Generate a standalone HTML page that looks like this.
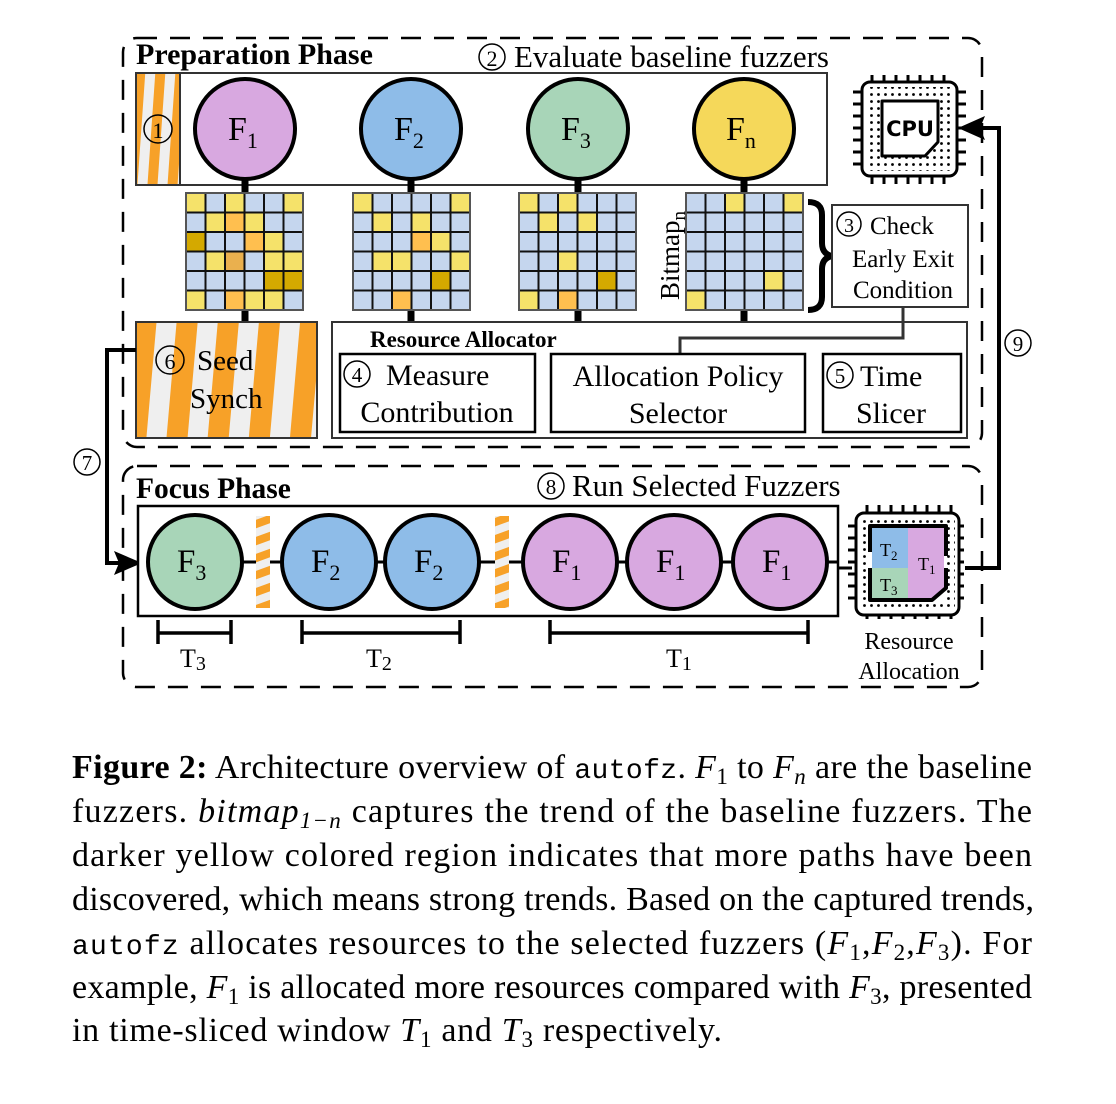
<!DOCTYPE html>
<html><head><meta charset="utf-8"><style>
html,body{margin:0;padding:0;background:#fff;}
svg{display:block;}
text{font-family:"Liberation Serif",serif;fill:#000;}
.m{font-family:"Liberation Mono",monospace;}
</style></head><body>
<svg width="1116" height="1104" viewBox="0 0 1116 1104" xmlns="http://www.w3.org/2000/svg">
<defs>
<pattern id="str" patternUnits="userSpaceOnUse" width="41" height="41" patternTransform="rotate(5)">
<rect width="41" height="41" fill="#f7a128"/><rect x="20" width="20" height="41" fill="#efefef"/></pattern>
<pattern id="str1" patternUnits="userSpaceOnUse" width="20" height="20" patternTransform="rotate(4)">
<rect width="20" height="20" fill="#f7a128"/><rect x="10" width="10" height="20" fill="#efefef"/></pattern>
<pattern id="str2" patternUnits="userSpaceOnUse" width="16" height="16" patternTransform="rotate(70)">
<rect width="16" height="16" fill="#f7a128"/><rect x="8" width="8" height="16" fill="#efefef"/></pattern>
<pattern id="g1" patternUnits="userSpaceOnUse" x="186" y="193" width="19.5" height="19.5"><rect width="19.5" height="19.5" fill="none" stroke="#111" stroke-width="2"/></pattern>
<pattern id="g2" patternUnits="userSpaceOnUse" x="353" y="193" width="19.5" height="19.5"><rect width="19.5" height="19.5" fill="none" stroke="#111" stroke-width="2"/></pattern>
<pattern id="g3" patternUnits="userSpaceOnUse" x="519" y="193" width="19.5" height="19.5"><rect width="19.5" height="19.5" fill="none" stroke="#111" stroke-width="2"/></pattern>
<pattern id="g4" patternUnits="userSpaceOnUse" x="686" y="193" width="19.5" height="19.5"><rect width="19.5" height="19.5" fill="none" stroke="#111" stroke-width="2"/></pattern>
<pattern id="dots" patternUnits="userSpaceOnUse" x="0" y="0" width="7" height="7"><circle cx="3.5" cy="3.5" r="1.4" fill="#000"/></pattern>
</defs>

<rect x="123" y="38" width="859" height="409" rx="14" fill="none" stroke="#000" stroke-width="2.5" stroke-dasharray="20,13"/>
<rect x="123" y="466" width="859" height="221" rx="14" fill="none" stroke="#000" stroke-width="2.5" stroke-dasharray="20,13"/>

<text x="136" y="64" font-size="30" font-weight="bold">Preparation Phase</text>
<circle cx="492" cy="57" r="13" fill="none" stroke="#000" stroke-width="1.5"/><text x="492" y="66" font-size="22" text-anchor="middle">2</text>
<text x="514" y="67" font-size="31">Evaluate baseline fuzzers</text>

<rect x="136" y="73" width="691" height="112" fill="#fff" stroke="#333" stroke-width="2"/>
<rect x="136" y="73" width="44" height="112" fill="url(#str1)" stroke="#333" stroke-width="2"/>
<circle cx="158" cy="129" r="14" fill="none" stroke="#000" stroke-width="1.5"/><text x="158" y="138" font-size="22" text-anchor="middle">1</text>

<g stroke="#000" stroke-width="7">
<line x1="245" y1="175" x2="245" y2="195"/><line x1="245" y1="308" x2="245" y2="324"/>
<line x1="411" y1="175" x2="411" y2="195"/><line x1="411" y1="308" x2="411" y2="324"/>
<line x1="578" y1="175" x2="578" y2="195"/><line x1="578" y1="308" x2="578" y2="324"/>
<line x1="744" y1="175" x2="744" y2="195"/><line x1="744" y1="308" x2="744" y2="324"/>
</g>

<g stroke="#000" stroke-width="4">
<circle cx="245" cy="129" r="50" fill="#d8a8e0"/>
<circle cx="411" cy="129" r="50" fill="#8ebce8"/>
<circle cx="578" cy="129" r="50" fill="#a8d5b8"/>
<circle cx="744" cy="129" r="50" fill="#f5d85a"/>
</g>
<g font-size="34">
<text x="228" y="140">F<tspan font-size="22" dy="8">1</tspan></text>
<text x="394" y="140">F<tspan font-size="22" dy="8">2</tspan></text>
<text x="561" y="140">F<tspan font-size="22" dy="8">3</tspan></text>
<text x="726" y="140">F<tspan font-size="22" dy="8">n</tspan></text>
</g>

<g>
<rect x="186" y="193" width="117" height="117" fill="#c5d6ee"/>
<g fill="#f5e26a"><rect x="186" y="193" width="19.5" height="19.5"/><rect x="225" y="193" width="19.5" height="19.5"/><rect x="283.5" y="193" width="19.5" height="19.5"/><rect x="205.5" y="212.5" width="19.5" height="19.5"/><rect x="244.5" y="212.5" width="19.5" height="19.5"/><rect x="264" y="232" width="19.5" height="19.5"/><rect x="205.5" y="251.5" width="19.5" height="19.5"/><rect x="264" y="251.5" width="19.5" height="19.5"/><rect x="283.5" y="251.5" width="19.5" height="19.5"/><rect x="186" y="290.5" width="19.5" height="19.5"/><rect x="244.5" y="290.5" width="19.5" height="19.5"/><rect x="264" y="290.5" width="19.5" height="19.5"/></g>
<g fill="#ffbf4f"><rect x="225" y="212.5" width="19.5" height="19.5"/><rect x="244.5" y="232" width="19.5" height="19.5"/><rect x="225" y="290.5" width="19.5" height="19.5"/></g>
<rect x="225" y="251.5" width="19.5" height="19.5" fill="#eab04e"/>
<g fill="#d4a900"><rect x="186" y="232" width="19.5" height="19.5"/><rect x="264" y="271" width="19.5" height="19.5"/><rect x="283.5" y="271" width="19.5" height="19.5"/></g>
<rect x="186" y="193" width="117" height="117" fill="url(#g1)" stroke="#555" stroke-width="2"/>
</g>
<g>
<rect x="353" y="193" width="117" height="117" fill="#c5d6ee"/>
<g fill="#f5e26a"><rect x="353" y="193" width="19.5" height="19.5"/><rect x="450.5" y="193" width="19.5" height="19.5"/><rect x="372.5" y="212.5" width="19.5" height="19.5"/><rect x="411.5" y="212.5" width="19.5" height="19.5"/><rect x="431" y="232" width="19.5" height="19.5"/><rect x="372.5" y="251.5" width="19.5" height="19.5"/><rect x="392" y="251.5" width="19.5" height="19.5"/><rect x="450.5" y="251.5" width="19.5" height="19.5"/></g>
<g fill="#ffbf4f"><rect x="411.5" y="232" width="19.5" height="19.5"/><rect x="392" y="290.5" width="19.5" height="19.5"/></g>
<rect x="431" y="271" width="19.5" height="19.5" fill="#d4a900"/>
<rect x="353" y="193" width="117" height="117" fill="url(#g2)" stroke="#555" stroke-width="2"/>
</g>
<g>
<rect x="519" y="193" width="117" height="117" fill="#c5d6ee"/>
<g fill="#f5e26a"><rect x="519" y="193" width="19.5" height="19.5"/><rect x="558" y="193" width="19.5" height="19.5"/><rect x="538.5" y="212.5" width="19.5" height="19.5"/><rect x="577.5" y="212.5" width="19.5" height="19.5"/><rect x="558" y="251.5" width="19.5" height="19.5"/><rect x="519" y="290.5" width="19.5" height="19.5"/></g>
<rect x="558" y="290.5" width="19.5" height="19.5" fill="#ffbf4f"/>
<rect x="597" y="271" width="19.5" height="19.5" fill="#d4a900"/>
<rect x="519" y="193" width="117" height="117" fill="url(#g3)" stroke="#555" stroke-width="2"/>
</g>
<g>
<rect x="686" y="193" width="117" height="117" fill="#c5d6ee"/>
<g fill="#f5e26a"><rect x="725" y="193" width="19.5" height="19.5"/><rect x="783.5" y="193" width="19.5" height="19.5"/><rect x="764" y="271" width="19.5" height="19.5"/><rect x="686" y="290.5" width="19.5" height="19.5"/></g>
<rect x="686" y="193" width="117" height="117" fill="url(#g4)" stroke="#555" stroke-width="2"/>
</g>
<text transform="translate(679,300) rotate(-90)" font-size="27">Bitmap<tspan font-size="19" dy="6">n</tspan></text>

<path d="M808,202 Q822,202 822,215 L822,243 Q822,254 832,256 Q822,258 822,269 L822,297 Q822,310 808,310" fill="none" stroke="#000" stroke-width="6"/>

<rect x="832" y="205" width="136" height="102" fill="#fff" stroke="#333" stroke-width="2"/>
<circle cx="849" cy="224" r="12" fill="none" stroke="#000" stroke-width="1.5"/><text x="849" y="232" font-size="20" text-anchor="middle">3</text>
<text x="870" y="234" font-size="25">Check</text>
<text x="903" y="267" font-size="25" text-anchor="middle">Early Exit</text>
<text x="903" y="298" font-size="25" text-anchor="middle">Condition</text>

<rect x="136" y="322" width="181" height="116" fill="url(#str)" stroke="#333" stroke-width="2"/>
<circle cx="170" cy="360" r="14" fill="none" stroke="#000" stroke-width="1.5"/><text x="170" y="369" font-size="22" text-anchor="middle">6</text>
<text x="197" y="370" font-size="29">Seed</text>
<text x="190" y="408" font-size="29">Synch</text>

<rect x="332" y="322" width="635" height="116" fill="#fff" stroke="#333" stroke-width="2"/>
<text x="370" y="347" font-size="23" font-weight="bold">Resource Allocator</text>
<path d="M903,307 L903,338 L680,338 L680,354" fill="none" stroke="#333" stroke-width="3"/>
<rect x="340" y="354" width="195" height="78" fill="#fff" stroke="#000" stroke-width="2.5"/>
<rect x="551" y="354" width="254" height="78" fill="#fff" stroke="#000" stroke-width="2.5"/>
<rect x="823" y="354" width="138" height="78" fill="#fff" stroke="#000" stroke-width="2.5"/>
<circle cx="357" cy="374" r="13" fill="none" stroke="#000" stroke-width="1.5"/><text x="357" y="382" font-size="21" text-anchor="middle">4</text>
<text x="386" y="385" font-size="30">Measure</text>
<text x="437" y="422" font-size="30" text-anchor="middle">Contribution</text>
<text x="678" y="386" font-size="30" text-anchor="middle">Allocation Policy</text>
<text x="678" y="423" font-size="30" text-anchor="middle">Selector</text>
<circle cx="840" cy="375" r="13" fill="none" stroke="#000" stroke-width="1.5"/><text x="840" y="383" font-size="21" text-anchor="middle">5</text>
<text x="860" y="386" font-size="30">Time</text>
<text x="891" y="423" font-size="30" text-anchor="middle">Slicer</text>

<g stroke="#000" stroke-width="3">
<g id="pinsT"><line x1="872" y1="75" x2="872" y2="84"/><line x1="884" y1="75" x2="884" y2="84"/><line x1="896" y1="75" x2="896" y2="84"/><line x1="908" y1="75" x2="908" y2="84"/><line x1="920" y1="75" x2="920" y2="84"/><line x1="932" y1="75" x2="932" y2="84"/><line x1="944" y1="75" x2="944" y2="84"/></g>
<use href="#pinsT" y="100"/>
<g id="pinsL"><line x1="853" y1="92" x2="862" y2="92"/><line x1="853" y1="104" x2="862" y2="104"/><line x1="853" y1="116" x2="862" y2="116"/><line x1="853" y1="128" x2="862" y2="128"/><line x1="853" y1="140" x2="862" y2="140"/><line x1="853" y1="152" x2="862" y2="152"/><line x1="853" y1="164" x2="862" y2="164"/></g>
<use href="#pinsL" x="104"/>
</g>
<rect x="862" y="82" width="95" height="94" rx="8" fill="#fff" stroke="#000" stroke-width="3"/>
<rect x="867" y="87" width="85" height="84" fill="url(#dots)"/>
<path d="M882,101 L938,101 L938,142 L925,156 L882,156 Z" fill="#fff" stroke="#000" stroke-width="3" stroke-linejoin="round"/>
<text x="910" y="136" font-size="21" font-weight="bold" text-anchor="middle" style="font-family:'DejaVu Sans',sans-serif">CPU</text>

<path d="M965,568 L999,568 L999,128 L975,128" fill="none" stroke="#000" stroke-width="4"/>
<path d="M958,128 L985,116 L980,128 L985,140 Z" fill="#000"/>
<rect x="1005" y="328" width="28" height="30" fill="#fff"/>
<circle cx="1018" cy="343" r="13" fill="none" stroke="#000" stroke-width="1.5"/><text x="1018" y="351" font-size="21" text-anchor="middle">9</text>

<path d="M136,350 L107,350 L107,563 L130,563" fill="none" stroke="#000" stroke-width="4"/>
<path d="M142,563 L114,551 L119,563 L114,575 Z" fill="#000"/>
<circle cx="87" cy="462" r="13" fill="none" stroke="#000" stroke-width="1.5"/><text x="87" y="470" font-size="21" text-anchor="middle">7</text>

<text x="136" y="498" font-size="29.5" font-weight="bold">Focus Phase</text>
<circle cx="551" cy="486" r="13" fill="none" stroke="#000" stroke-width="1.5"/><text x="551" y="494" font-size="21" text-anchor="middle">8</text>
<text x="572" y="496" font-size="31">Run Selected Fuzzers</text>
<rect x="138" y="506" width="700" height="110" fill="#fff" stroke="#000" stroke-width="2.5"/>
<line x1="195" y1="562" x2="838" y2="562" stroke="#000" stroke-width="3"/>
<line x1="838" y1="568" x2="852" y2="568" stroke="#000" stroke-width="3"/>
<rect x="256" y="516" width="14" height="92" fill="url(#str2)"/>
<rect x="495" y="516" width="14" height="92" fill="url(#str2)"/>
<g stroke="#000" stroke-width="4">
<circle cx="195" cy="562" r="47" fill="#a8d5b8"/>
<circle cx="329" cy="562" r="47" fill="#8ebce8"/>
<circle cx="432" cy="562" r="47" fill="#8ebce8"/>
<circle cx="570" cy="562" r="47" fill="#d8a8e0"/>
<circle cx="674" cy="562" r="47" fill="#d8a8e0"/>
<circle cx="780" cy="562" r="47" fill="#d8a8e0"/>
</g>
<g font-size="33">
<text x="177" y="572">F<tspan font-size="22" dy="8">3</tspan></text>
<text x="311" y="572">F<tspan font-size="22" dy="8">2</tspan></text>
<text x="414" y="572">F<tspan font-size="22" dy="8">2</tspan></text>
<text x="552" y="572">F<tspan font-size="22" dy="8">1</tspan></text>
<text x="656" y="572">F<tspan font-size="22" dy="8">1</tspan></text>
<text x="762" y="572">F<tspan font-size="22" dy="8">1</tspan></text>
</g>
<g stroke="#000" stroke-width="3.5" fill="none">
<path d="M158,620 L158,644 M158,633 L231,633 M231,620 L231,644"/>
<path d="M302,620 L302,644 M302,633 L460,633 M460,620 L460,644"/>
<path d="M550,620 L550,644 M550,633 L808,633 M808,620 L808,644"/>
</g>
<g font-size="26">
<text x="180" y="667">T<tspan font-size="20" dy="3">3</tspan></text>
<text x="366" y="667">T<tspan font-size="20" dy="3">2</tspan></text>
<text x="666" y="667">T<tspan font-size="20" dy="3">1</tspan></text>
</g>

<g stroke="#000" stroke-width="3">
<g id="pT2"><line x1="867" y1="505" x2="867" y2="515"/><line x1="879" y1="505" x2="879" y2="515"/><line x1="891" y1="505" x2="891" y2="515"/><line x1="903" y1="505" x2="903" y2="515"/><line x1="915" y1="505" x2="915" y2="515"/><line x1="927" y1="505" x2="927" y2="515"/><line x1="939" y1="505" x2="939" y2="515"/><line x1="951" y1="505" x2="951" y2="515"/></g>
<use href="#pT2" y="104"/>
<g id="pL2"><line x1="848" y1="526" x2="856" y2="526"/><line x1="848" y1="538" x2="856" y2="538"/><line x1="848" y1="550" x2="856" y2="550"/><line x1="848" y1="562" x2="856" y2="562"/><line x1="848" y1="574" x2="856" y2="574"/><line x1="848" y1="586" x2="856" y2="586"/><line x1="848" y1="598" x2="856" y2="598"/></g>
<use href="#pL2" x="108"/>
</g>
<rect x="856" y="513" width="103" height="102" rx="8" fill="#fff" stroke="#000" stroke-width="3"/>
<rect x="860" y="517" width="95" height="94" fill="url(#dots)"/>
<rect x="870" y="526" width="76" height="75" fill="#fff"/>
<rect x="872" y="527" width="36" height="41" fill="#8ebce8"/>
<rect x="872" y="568" width="36" height="32" fill="#a8d5b8"/>
<path d="M908,527 L944,527 L944,588 L932,600 L908,600 Z" fill="#d8a8e0"/>
<path d="M870,552 L870,526 L946,526 L946,556 M946,568 L946,588 L932,600 L870,600 L870,568" fill="none" stroke="#000" stroke-width="4" stroke-linejoin="round"/>
<g font-size="18">
<text x="880" y="556">T<tspan font-size="13" dy="4">2</tspan></text>
<text x="880" y="591">T<tspan font-size="13" dy="4">3</tspan></text>
<text x="918" y="570">T<tspan font-size="13" dy="4">1</tspan></text>
</g>
<text x="909" y="649" font-size="24" text-anchor="middle">Resource</text>
<text x="909" y="679" font-size="24" text-anchor="middle">Allocation</text>

<g font-size="34">
<text x="72" y="778" textLength="960" lengthAdjust="spacing"><tspan font-weight="bold">Figure 2:</tspan> Architecture overview of <tspan class="m" font-size="28">autofz</tspan>. <tspan font-style="italic">F</tspan><tspan font-size="23" dy="6">1</tspan><tspan dy="-6"> to </tspan><tspan font-style="italic">F</tspan><tspan font-size="23" font-style="italic" dy="6">n</tspan><tspan dy="-6"> are the baseline</tspan></text>
<text x="72" y="822" textLength="960" lengthAdjust="spacing">fuzzers. <tspan font-style="italic">bitmap</tspan><tspan font-size="23" font-style="italic" dy="6">1−n</tspan><tspan dy="-6"> captures the trend of the baseline fuzzers. The</tspan></text>
<text x="72" y="866" textLength="960" lengthAdjust="spacing">darker yellow colored region indicates that more paths have been</text>
<text x="72" y="910" textLength="962" lengthAdjust="spacing">discovered, which means strong trends. Based on the captured trends,</text>
<text x="72" y="954" textLength="960" lengthAdjust="spacing"><tspan class="m" font-size="28">autofz</tspan> allocates resources to the selected fuzzers (<tspan font-style="italic">F</tspan><tspan font-size="23" dy="6">1</tspan><tspan dy="-6">,</tspan><tspan font-style="italic">F</tspan><tspan font-size="23" dy="6">2</tspan><tspan dy="-6">,</tspan><tspan font-style="italic">F</tspan><tspan font-size="23" dy="6">3</tspan><tspan dy="-6">). For</tspan></text>
<text x="72" y="998" textLength="960" lengthAdjust="spacing">example, <tspan font-style="italic">F</tspan><tspan font-size="23" dy="6">1</tspan><tspan dy="-6"> is allocated more resources compared with </tspan><tspan font-style="italic">F</tspan><tspan font-size="23" dy="6">3</tspan><tspan dy="-6">, presented</tspan></text>
<text x="72" y="1041" textLength="650" lengthAdjust="spacing">in time-sliced window <tspan font-style="italic">T</tspan><tspan font-size="23" dy="6">1</tspan><tspan dy="-6"> and </tspan><tspan font-style="italic">T</tspan><tspan font-size="23" dy="6">3</tspan><tspan dy="-6"> respectively.</tspan></text>
</g>
</svg>
</body></html>
